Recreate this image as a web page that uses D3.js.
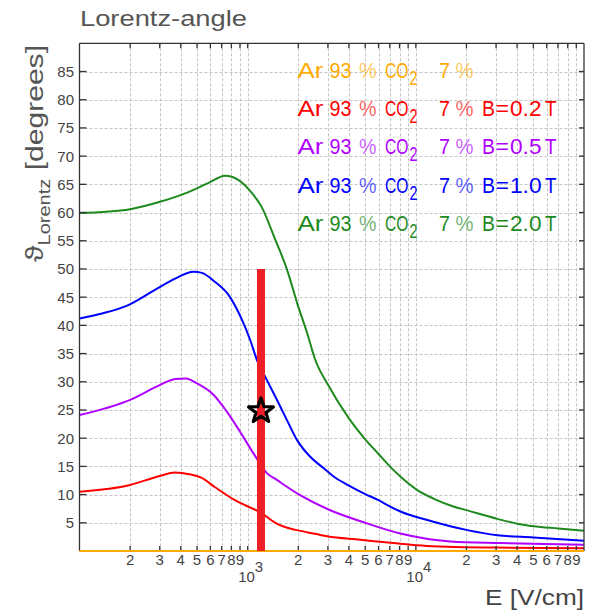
<!DOCTYPE html>
<html>
<head>
<meta charset="utf-8">
<script src="https://cdn.jsdelivr.net/npm/d3@7/dist/d3.min.js"></script>
<style>
html,body{margin:0;padding:0;background:#fff;}
svg{display:block;}
text{font-family:"Liberation Sans",Arial,sans-serif;}
</style>
</head>
<body>
<svg id="chart" width="604" height="614"></svg>
<script>
// ---- data ----
const title = "Lorentz-angle";
const xTitle = "E [V/cm]";
const yTicks = [5,10,15,20,25,30,35,40,45,50,55,60,65,70,75,80,85];
const decades = [100, 1000, 10000];
const legendLabels = ["", "B=0.2 T", "B=0.5 T", "B=1.0 T", "B=2.0 T"];
const seriesColors = ["#ffaa00", "#ff0000", "#b000ff", "#0000ff", "#1e8a1e"];

const seriesB00 = [[100,0],[100000,0]];
const seriesB02 = [[100,10.5],[200,11.7],[300,13.3],[370,13.9],[450,13.6],[530,13.0],[640,11.3],[840,9.0],[1210,6.7],[1460,5.0],[1680,4.2],[1960,3.7],[2560,3.0],[2970,2.6],[4680,2.0],[7350,1.4],[11660,0.9],[30000,0.6],[100000,0.5]];
const seriesB05 = [[100,24.1],[200,26.8],[300,29.4],[370,30.5],[430,30.6],[500,29.7],[626,27.7],[752,24.7],[903,21.1],[1083,17.3],[1300,13.8],[1490,12.6],[2050,9.9],[3000,7.4],[5000,5.0],[8090,3.1],[16050,1.7],[31840,1.4],[100000,1.1]];
const seriesB10 = [[100,41.2],[136,42.1],[195,43.6],[281,46.3],[370,48.3],[476,49.5],[534,49.3],[640,47.7],[769,45.4],[924,41.0],[1035,37.4],[1134,33.9],[1301,30.3],[1492,26.8],[1712,23.2],[1963,19.7],[2355,16.7],[2825,14.7],[3243,13.2],[4000,11.6],[5000,10.1],[6000,9.0],[7000,7.9],[8090,7.0],[12720,5.2],[20250,3.7],[30550,2.8],[50000,2.4],[100000,1.8]];
const seriesB20 = [[100,59.9],[200,60.6],[301,61.9],[425,63.4],[582,65.2],[735,66.5],[878,65.8],[1064,63.4],[1210,61.0],[1459,55.2],[1718,49.8],[1971,43.9],[2260,38.6],[2522,33.9],[3000,29.5],[4000,23.5],[5000,19.8],[6000,17.2],[7000,15.0],[8090,13.2],[10206,10.8],[12720,9.3],[16720,7.9],[20250,7.2],[30550,5.7],[40740,4.8],[50000,4.4],[70470,4.0],[100000,3.6]];
const seriesList = [seriesB00, seriesB02, seriesB05, seriesB10, seriesB20];

const markerE = 1200, markerAngle = 25;
const barE = 1200, barTop = 50;

// ---- layout ----
const svg = d3.select("#chart");
const L = 79.5, R = 584, T = 43.3, B = 551;
const x = d3.scaleLog().domain([100, 100000]).range([L, R]);
const y = d3.scaleLinear().domain([0, 90]).range([B, T]);

const xTicks = [];
decades.forEach(d => { for (let m = 1; m <= 9; m++) { const v = d*m; if (v > 100) xTicks.push({v, m, d}); } });

// grid
const grid = svg.append("g").attr("stroke", "#c4c4c4").attr("stroke-width", 1).attr("stroke-dasharray", "3,2");
grid.selectAll("line.v").data(xTicks).join("line")
  .attr("x1", d => Math.round(x(d.v))+0.5).attr("x2", d => Math.round(x(d.v))+0.5).attr("y1", T).attr("y2", B);
grid.selectAll("line.h").data(yTicks).join("line")
  .attr("x1", L).attr("x2", R).attr("y1", d => Math.round(y(d))+0.5).attr("y2", d => Math.round(y(d))+0.5);

// curves
const line = d3.line().x(d => x(d[0])).y(d => y(d[1])).curve(d3.curveMonotoneX);
svg.append("g").selectAll("path").data(seriesList).join("path")
  .attr("d", line).attr("fill", "none")
  .attr("stroke", (d,i) => seriesColors[i]).attr("stroke-width", 2);

// frame and ticks
const ax = svg.append("g").attr("stroke", "#333").attr("stroke-width", 1.3).attr("fill", "none");
ax.append("line").attr("x1", L).attr("x2", L).attr("y1", T).attr("y2", B);
ax.append("line").attr("x1", R).attr("x2", R).attr("y1", T).attr("y2", B);
ax.append("line").attr("x1", L).attr("x2", R).attr("y1", T).attr("y2", T);
ax.selectAll("line.yl").data(yTicks).join("line")
  .attr("x1", L).attr("x2", L+7).attr("y1", d => y(d)).attr("y2", d => y(d));
ax.selectAll("line.yr").data(yTicks).join("line")
  .attr("x1", R-5).attr("x2", R).attr("y1", d => y(d)).attr("y2", d => y(d));
ax.selectAll("line.xt").data(xTicks).join("line")
  .attr("x1", d => x(d.v)).attr("x2", d => x(d.v)).attr("y1", T).attr("y2", T+5);
ax.selectAll("line.xb").data(xTicks).join("line")
  .attr("x1", d => x(d.v)).attr("x2", d => x(d.v)).attr("y1", B-5).attr("y2", B);

// zero-field series drawn over the bottom axis
svg.append("path").datum(seriesB00).attr("d", line).attr("fill","none")
  .attr("stroke", seriesColors[0]).attr("stroke-width", 2);

// bar
svg.append("line").attr("x1", x(barE)).attr("x2", x(barE)).attr("y1", y(0)).attr("y2", y(barTop))
  .attr("stroke", "#ee1f26").attr("stroke-width", 8);

// star marker
function starPath(R1, r1) {
  const pts = [];
  for (let i = 0; i < 10; i++) {
    const a = -Math.PI/2 + i*Math.PI/5;
    const rr = i % 2 === 0 ? R1 : r1;
    pts.push([rr*Math.cos(a), rr*Math.sin(a)]);
  }
  return "M" + pts.map(p => p.join(",")).join("L") + "Z";
}
svg.append("path").attr("d", starPath(13, 5.3))
  .attr("transform", `translate(${x(markerE)},${y(markerAngle)+1})`)
  .attr("fill", "none").attr("stroke", "#000").attr("stroke-width", 3.2).attr("stroke-linejoin", "round");

// tick labels
const lab = svg.append("g").attr("fill", "#444").attr("font-size", 15);
lab.selectAll("text.y").data(yTicks).join("text")
  .attr("x", 74).attr("y", d => y(d)).attr("dy", "0.36em").attr("text-anchor", "end").text(d => d);
xTicks.forEach(t => {
  if (t.m > 1) {
    lab.append("text").attr("x", x(t.v)).attr("y", 565).attr("text-anchor", "middle").text(t.m);
  } else {
    const tx = lab.append("text").attr("x", x(t.v)+3).attr("y", 582).attr("text-anchor", "middle");
    tx.append("tspan").text("10");
    tx.append("tspan").attr("dy", -10).text(Math.round(Math.log10(t.v)));
  }
});

// titles
svg.append("text").attr("x", 80).attr("y", 26).attr("font-size", 22).attr("fill", "#555")
  .attr("textLength", 167).attr("lengthAdjust", "spacingAndGlyphs").text(title);
svg.append("text").attr("x", 485).attr("y", 605).attr("font-size", 22).attr("fill", "#444")
  .attr("textLength", 99).attr("lengthAdjust", "spacingAndGlyphs").text(xTitle);
const ytg = svg.append("g");
const yt = ytg.append("text").attr("text-anchor", "end").attr("font-size", 24).attr("fill", "#555");
yt.append("tspan").text("\u03D1");
yt.append("tspan").attr("font-size", 16).attr("dy", 7).text("Lorentz");
yt.append("tspan").attr("dy", -7).text(" [degrees]");
const yw = yt.node().getBBox().width;
ytg.attr("transform", `translate(43,45) rotate(-90) scale(${217 / yw},1)`);

// legend: each piece placed to span its measured extent
const legY = [78, 116, 154, 193, 231];
const lg = svg.append("g");
function piece(txt, x0, x1, yb, col, opts = {}) {
  lg.append("text").attr("x", x0).attr("y", yb).attr("fill", col)
    .attr("font-size", opts.size || 22).attr("fill-opacity", opts.op || 1)
    .attr("textLength", x1 - x0).attr("lengthAdjust", "spacingAndGlyphs").text(txt);
}
legendLabels.forEach((lbl, i) => {
  const c = seriesColors[i], yb = legY[i];
  piece("Ar", 297.5, 323.5, yb, c);
  piece("93", 329.5, 351.5, yb, c);
  piece("%", 359, 376.5, yb, c, {op: 0.65});
  piece("CO", 385, 408.5, yb, c);
  piece("2", 409.5, 417.5, yb + 7, c, {size: 21});
  piece("7", 439, 450, yb, c);
  piece("%", 455.5, 473.5, yb, c, {op: 0.65});
  if (lbl) {
    const [lhs, unit] = lbl.split(" ");
    const [sym, val] = lhs.split("=");
    piece(sym, 482, 495, yb, c);
    piece("=", 495.5, 509, yb, c);
    piece(val, 510, 541.5, yb, c);
    piece(unit, 545, 556.5, yb, c);
  }
});
</script>
</body>
</html>
